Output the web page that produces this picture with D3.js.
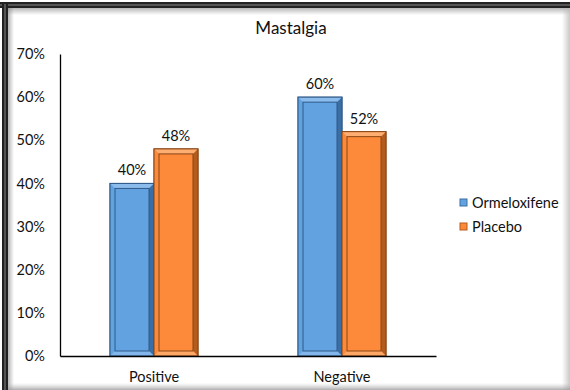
<!DOCTYPE html>
<html>
<head>
<meta charset="utf-8">
<script src="https://cdn.jsdelivr.net/npm/d3@7"></script>
<style>
  html, body { margin: 0; padding: 0; background: #fff; }
  svg { display: block; }
  text { font-family: Lato, "Open Sans", sans-serif; fill: #111; }
</style>
</head>
<body>
<svg id="chart" width="570" height="390"></svg>
<script>
// Mastalgia outcome by treatment arm
const categories = ["Positive", "Negative"];
const seriesNames = ["Ormeloxifene", "Placebo"];
const ormeloxifene = [0.40, 0.60];
const placebo = [0.48, 0.52];
const yTicks = [0, 0.1, 0.2, 0.3, 0.4, 0.5, 0.6, 0.7];

const seriesValues = [ormeloxifene, placebo];
const colors = {
  Ormeloxifene: { base: "#62a2e0", light: "#8cbcec", dark: "#3b6ea3", edge: "#2f5b8a" },
  Placebo:      { base: "#fd8a3b", light: "#ffae72", dark: "#b45c1e", edge: "#8a4614" }
};
const fontSize = "14.5px";

const svg = d3.select("#chart");
const W = 570, H = 390;

// frame with shadowed edges
const defs = svg.append("defs");
function grad(id, x1, y1, x2, y2, stops) {
  const g = defs.append("linearGradient").attr("id", id)
    .attr("x1", x1).attr("y1", y1).attr("x2", x2).attr("y2", y2);
  stops.forEach(s => g.append("stop").attr("offset", s[0]).attr("stop-color", s[1]).attr("stop-opacity", s[2]));
}
grad("shTop", 0, 0, 0, 1, [[0, "#888", 0.6], [1, "#888", 0]]);
grad("shLeft", 0, 0, 1, 0, [[0, "#888", 0.6], [1, "#888", 0]]);
grad("shRight", 0, 0, 1, 0, [[0, "#bbb", 0], [1, "#bbb", 0.8]]);
grad("shBottom", 0, 0, 0, 1, [[0, "#bbb", 0], [1, "#999", 0.8]]);

svg.append("rect").attr("x", 0).attr("y", 0).attr("width", W).attr("height", H).attr("fill", "#fff");
svg.append("rect").attr("x", 8).attr("y", 8).attr("width", W - 8).attr("height", 7).attr("fill", "url(#shTop)");
svg.append("rect").attr("x", 8).attr("y", 8).attr("width", 6).attr("height", H - 8).attr("fill", "url(#shLeft)");
svg.append("rect").attr("x", W - 8).attr("y", 8).attr("width", 8).attr("height", H - 8).attr("fill", "url(#shRight)");
svg.append("rect").attr("x", 8).attr("y", H - 7).attr("width", W - 8).attr("height", 7).attr("fill", "url(#shBottom)");
// dark border on top and left
svg.append("rect").attr("x", 0).attr("y", 2).attr("width", W).attr("height", 6).attr("fill", "#222");
svg.append("rect").attr("x", 0).attr("y", 4).attr("width", W).attr("height", 2).attr("fill", "#555");
svg.append("rect").attr("x", 2).attr("y", 2).attr("width", 6).attr("height", H - 2).attr("fill", "#222");
svg.append("rect").attr("x", 4).attr("y", 4).attr("width", 2).attr("height", H - 4).attr("fill", "#555");

// scales
const x = d3.scaleBand().domain(categories).range([60, 436]).paddingInner(0.532).paddingOuter(0.266);
const xSub = d3.scaleBand().domain(seriesNames).range([0, x.bandwidth()]);
const y = d3.scaleLinear().domain([0, 0.7]).range([356, 54]);

// title
svg.append("text").attr("x", 291).attr("y", 34).attr("text-anchor", "middle")
  .style("font-size", "17px").text("Mastalgia");

// y axis
const yAxis = svg.append("g").attr("transform", "translate(60,0)")
  .call(d3.axisLeft(y).tickValues(yTicks).tickFormat(d3.format(".0%")).tickSize(0).tickPadding(15));
yAxis.select(".domain").attr("stroke", "#000").attr("stroke-width", 1.3);
yAxis.selectAll("text").style("font-size", fontSize).style("font-family", "Lato, 'Open Sans', sans-serif").attr("fill", "#111");

// bars with bevelled edges
const bw = 5;
categories.forEach((cat, ci) => {
  seriesNames.forEach((name, si) => {
    const v = seriesValues[si][ci];
    const c = colors[name];
    const x0 = x(cat) + xSub(name), w = xSub.bandwidth();
    const y0 = y(v), y1 = y(0);
    const g = svg.append("g");
    g.append("rect").attr("x", x0).attr("y", y0).attr("width", w).attr("height", y1 - y0)
      .attr("fill", c.base).attr("stroke", c.edge).attr("stroke-width", 1);
    // top bevel
    g.append("polygon").attr("points", [[x0, y0], [x0 + w, y0], [x0 + w - bw, y0 + bw], [x0 + bw, y0 + bw]].join(" "))
      .attr("fill", c.light);
    // left bevel
    g.append("polygon").attr("points", [[x0, y0], [x0 + bw, y0 + bw], [x0 + bw, y1 - bw], [x0, y1]].join(" "))
      .attr("fill", c.base).attr("opacity", 0.9);
    // right bevel
    g.append("polygon").attr("points", [[x0 + w, y0], [x0 + w, y1], [x0 + w - bw, y1 - bw], [x0 + w - bw, y0 + bw]].join(" "))
      .attr("fill", c.dark);
    // bottom bevel
    g.append("polygon").attr("points", [[x0, y1], [x0 + w, y1], [x0 + w - bw, y1 - bw], [x0 + bw, y1 - bw]].join(" "))
      .attr("fill", c.light).attr("opacity", 0.8);
    // inner face
    g.append("rect").attr("x", x0 + bw).attr("y", y0 + bw).attr("width", w - 2 * bw).attr("height", y1 - y0 - 2 * bw)
      .attr("fill", c.base).attr("stroke", c.edge).attr("stroke-width", 1);
    // outer outline
    g.append("rect").attr("x", x0).attr("y", y0).attr("width", w).attr("height", y1 - y0)
      .attr("fill", "none").attr("stroke", c.edge).attr("stroke-width", 1);
    // value label
    svg.append("text").attr("x", x0 + w / 2).attr("y", y0 - 8).attr("text-anchor", "middle")
      .style("font-size", fontSize).text(d3.format(".0%")(v));
  });
});

// x axis
const xAxis = svg.append("g").attr("transform", "translate(0,356)")
  .call(d3.axisBottom(x).tickSize(0).tickPadding(16));
xAxis.select(".domain").attr("stroke", "#000").attr("stroke-width", 1.3);
xAxis.selectAll("text").style("font-size", fontSize).style("font-family", "Lato, 'Open Sans', sans-serif").attr("fill", "#111");

// legend
const legend = svg.append("g");
seriesNames.forEach((name, i) => {
  const ly = 199 + i * 24;
  const c = colors[name];
  legend.append("rect").attr("x", 460).attr("y", ly).attr("width", 7).attr("height", 7)
    .attr("fill", c.base).attr("stroke", c.dark).attr("stroke-width", 1);
  legend.append("text").attr("x", 472).attr("y", ly + 9).style("font-size", fontSize).text(name);
});
</script>
</body>
</html>
